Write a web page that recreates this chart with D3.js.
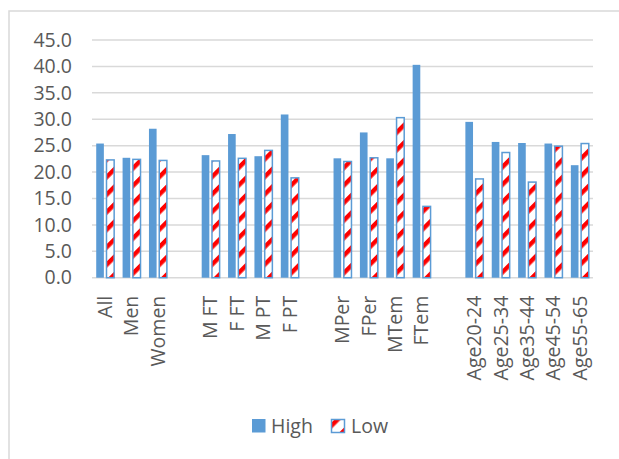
<!DOCTYPE html>
<html>
<head>
<meta charset="utf-8">
<script src="https://cdn.jsdelivr.net/npm/d3@7/dist/d3.min.js"></script>
<style>
  html, body { margin: 0; padding: 0; background: #fff; }
  svg { display: block; }
  text { font-family: "Open Sans", "Noto Sans", sans-serif; fill: #595959; }
</style>
</head>
<body>
<svg id="chart" width="619" height="459"></svg>
<script>
// ---- data ----
const categories = ["All","Men","Women","","M FT","F FT","M PT","F PT","","MPer","FPer","MTem","FTem","","Age20-24","Age25-34","Age35-44","Age45-54","Age55-65"];
const highValues = [25.4, 22.7, 28.2, null, 23.2, 27.2, 23.0, 30.9, null, 22.6, 27.5, 22.6, 40.3, null, 29.5, 25.7, 25.5, 25.4, 21.3];
const lowValues  = [22.3, 22.4, 22.2, null, 22.1, 22.6, 24.1, 18.9, null, 22.0, 22.7, 30.3, 13.5, null, 18.7, 23.7, 18.1, 24.9, 25.4];
const yTicks = [0, 5, 10, 15, 20, 25, 30, 35, 40, 45];
const seriesNames = ["High", "Low"];

const blue = "#5B9BD5";
const red = "#FF0000";
const grid = "#D9D9D9";

const svg = d3.select("#chart");

// pattern for Low series
const defs = svg.append("defs");
const P = 12.4;
const pat = defs.append("pattern")
  .attr("id", "lowPat")
  .attr("patternUnits", "userSpaceOnUse")
  .attr("width", P).attr("height", P)
  .attr("patternTransform", "rotate(-45)");
pat.append("rect").attr("width", P).attr("height", P).attr("fill", "#fff");
pat.append("rect").attr("x", 0).attr("y", 0).attr("width", P).attr("height", 4.4).attr("fill", red);

// outer frame
svg.append("rect")
  .attr("x", 9).attr("y", 11).attr("width", 700).attr("height", 600)
  .attr("fill", "none").attr("stroke", grid).attr("stroke-width", 1.5);

const plotLeft = 92, plotRight = 593, plotTop = 40, plotBottom = 277.7;

const x = d3.scaleBand()
  .domain(d3.range(categories.length))
  .range([plotLeft, plotRight])
  .padding(0);

const y = d3.scaleLinear().domain([0, 45]).range([plotBottom, plotTop]);

// gridlines
svg.append("g")
  .selectAll("line")
  .data(yTicks)
  .join("line")
  .attr("x1", plotLeft).attr("x2", plotRight)
  .attr("y1", d => y(d)).attr("y2", d => y(d))
  .attr("stroke", grid).attr("stroke-width", 1.5);

// y axis labels
const yAxis = svg.append("g")
  .attr("transform", `translate(${plotLeft - 20},0)`)
  .call(d3.axisLeft(y).tickValues(yTicks).tickFormat(d3.format(".1f")).tickSize(0).tickPadding(0));
yAxis.select(".domain").remove();
yAxis.selectAll("text")
  .style("font-size", "19.5px")
  .attr("fill", "#595959")
  .attr("font-family", "Open Sans");

const bw = x.bandwidth();
const barW = bw * 0.29;
const inner = bw * 0.1;

// High bars
svg.append("g")
  .selectAll("rect")
  .data(highValues.map((v, i) => ({v, i})).filter(d => d.v != null))
  .join("rect")
  .attr("x", d => x(d.i) + bw / 2 - inner / 2 - barW)
  .attr("width", barW)
  .attr("y", d => y(d.v))
  .attr("height", d => y(0) - y(d.v))
  .attr("fill", blue);

// Low bars
svg.append("g")
  .selectAll("rect")
  .data(lowValues.map((v, i) => ({v, i})).filter(d => d.v != null))
  .join("rect")
  .attr("x", d => x(d.i) + bw / 2 + inner / 2)
  .attr("width", barW)
  .attr("y", d => y(d.v))
  .attr("height", d => y(0) - y(d.v))
  .attr("fill", "url(#lowPat)")
  .attr("stroke", blue)
  .attr("stroke-width", 1.5);

// x axis labels
const xAxis = svg.append("g")
  .attr("transform", `translate(0,${plotBottom})`)
  .call(d3.axisBottom(x).tickFormat(i => categories[i]).tickSize(0).tickPadding(0));
xAxis.select(".domain").remove();
xAxis.selectAll("text")
  .style("font-size", "19.5px")
  .attr("fill", "#595959")
  .attr("font-family", "Open Sans")
  .attr("text-anchor", "end")
  .attr("transform", "translate(0,18) rotate(-90)")
  .attr("x", 0).attr("y", 0)
  .attr("dy", "0.35em");

// legend
const lg = svg.append("g");
lg.append("rect").attr("x", 252).attr("y", 419).attr("width", 13.5).attr("height", 13.5).attr("fill", blue);
lg.append("text").attr("x", 271).attr("y", 433).style("font-size", "19.5px").text(seriesNames[0]);
lg.append("rect").attr("x", 331.5).attr("y", 419.5).attr("width", 13).attr("height", 13)
  .attr("fill", "url(#lowPat)").attr("stroke", blue).attr("stroke-width", 1.5);
lg.append("text").attr("x", 351).attr("y", 433).style("font-size", "19.5px").text(seriesNames[1]);
</script>
</body>
</html>
